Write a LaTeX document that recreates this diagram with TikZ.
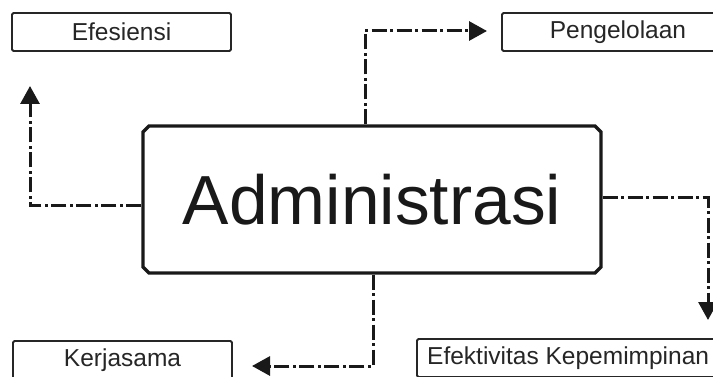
\documentclass[tikz,border=0pt]{standalone}
\usepackage{fontspec}
\setmainfont{Liberation Sans}
\usetikzlibrary{arrows.meta,shapes.misc}
\begin{document}
\begin{tikzpicture}[x=1pt,y=-1pt,
  smallbox/.style={draw=black!85, line width=1.8pt, rounded corners=1.5pt,
    minimum width=219pt, minimum height=38pt, inner sep=0pt,
    font=\fontsize{24.5}{28}\selectfont, text=black!85},
  mainbox/.style={draw=black!90, line width=3.2pt, chamfered rectangle,
    chamfered rectangle xsep=3pt, chamfered rectangle ysep=3pt,
    minimum width=458pt, minimum height=147pt, inner sep=0pt,
    font=\fontsize{69.5}{80}\selectfont, text=black!90},
  conn/.style={draw=black!90, line width=3pt,
    dash pattern=on 15pt off 3.5pt on 3pt off 3.5pt,
    -{Triangle[width=19pt,length=18pt]}}
]
\useasboundingbox (0,0) rectangle (713,377);
\clip (0,0) rectangle (713,377);
\fill[white] (0,0) rectangle (713,377);

\node[smallbox] (efe) at (121.5,32) {Efesiensi};
\node[smallbox, minimum width=232pt] (peng) at (618,32) {Pengelolaan};
\node[smallbox] (ker) at (122.5,360) {Kerjasama};
\node[smallbox, minimum width=320pt] (efk) at (577,358) {};
\node[font=\fontsize{24.5}{28}\selectfont, text=black!85, anchor=west, inner sep=0pt] (efkt) at (427,358) {Efektivitas Kepemimpinan};

\node[mainbox] (adm) at (372,199.5) {Administrasi};

\coordinate (tipefe) at (30,86);
\coordinate (tippeng) at (487,31);
\coordinate (tipefk) at (708,320);
\coordinate (tipker) at (252,366);

\draw[conn] ([yshift=-6.5pt]adm.west) -| (tipefe);
\draw[conn] ([xshift=-7pt]adm.north) |- (tippeng);
\draw[conn] ([yshift=1.5pt]adm.east) -| (tipefk);
\draw[conn] ([xshift=1pt]adm.south) |- (tipker);
\end{tikzpicture}
\end{document}
